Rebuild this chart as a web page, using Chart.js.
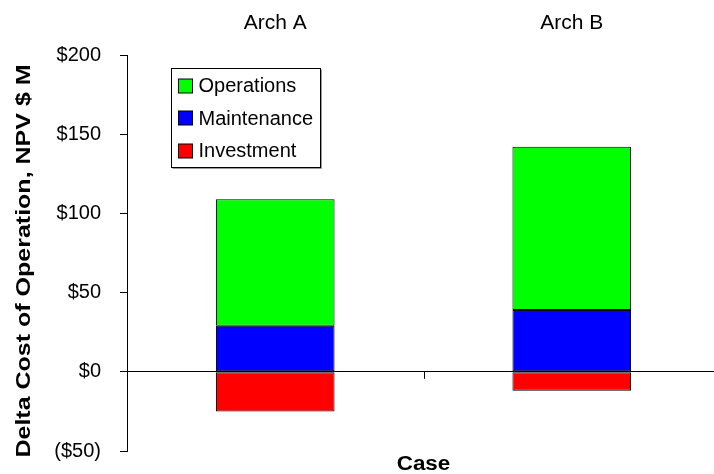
<!DOCTYPE html>
<html>
<head>
<meta charset="utf-8">
<script src="https://cdn.jsdelivr.net/npm/chart.js@4"></script>
<style>
  html, body { margin: 0; padding: 0; background: #fff; overflow: hidden; }
  #wrap { width: 720px; height: 474px; }
</style>
</head>
<body>
<div id="wrap"><canvas id="chart" width="720" height="474"></canvas></div>
<script>
// data
const cases = ["Arch A", "Arch B"];
const investment = [-25, -12];
const maintenance = [29, 39];
const operations = [80, 103];
const yTicks = [-50, 0, 50, 100, 150, 200];
const yTitle = "Delta Cost of Operation, NPV $ M";
const xTitle = "Case";

const FONT = "'Liberation Sans', Arial, sans-serif";

const fmtMoney = (v) => v < 0 ? "($" + (-v) + ")" : "$" + v;

// the excel text is a bit wider than arial, so titles get stretched a little
function wideText(ctx, text, x, y, sx, rot) {
  ctx.save();
  ctx.translate(x, y);
  if (rot) ctx.rotate(rot);
  ctx.scale(sx, 1);
  ctx.textAlign = "center";
  ctx.textBaseline = "middle";
  ctx.fillText(text, 0, 0);
  ctx.restore();
}

// zero line tick between the cases, axis titles, boxed legend
const extras = {
  id: "extras",
  afterDraw(chart) {
    const ctx = chart.ctx;
    const x = chart.scales.x;
    const y = chart.scales.y;
    const area = chart.chartArea;
    const y0 = y.getPixelForValue(0);

    ctx.save();
    ctx.strokeStyle = "#000";
    ctx.lineWidth = 1;
    for (let i = 0; i < cases.length - 1; i++) {
      const px = Math.round(x.getPixelForValue(i + 0.5)) + 0.5;
      ctx.beginPath();
      ctx.moveTo(px, y0);
      ctx.lineTo(px, y0 + 7);
      ctx.stroke();
    }

    // titles
    ctx.fillStyle = "#000";
    ctx.font = "bold 20px " + FONT;
    wideText(ctx, yTitle, 24, (area.top + area.bottom) / 2 + 8, 1.25, -Math.PI / 2);
    wideText(ctx, xTitle, x.getPixelForValue(0.5), 464, 1.12, 0);

    // legend
    const bx = area.left + 44.5, by = area.top + 13.5, bw = 149, bh = 99;
    ctx.fillStyle = "#fff";
    ctx.fillRect(bx, by, bw, bh);
    ctx.strokeStyle = "#000";
    ctx.strokeRect(bx, by, bw, bh);
    ctx.strokeStyle = "#999";
    ctx.beginPath();
    ctx.moveTo(bx + bw + 1, by + 1);
    ctx.lineTo(bx + bw + 1, by + bh + 1);
    ctx.lineTo(bx + 1, by + bh + 1);
    ctx.stroke();

    const items = chart.data.datasets.slice().reverse();
    ctx.font = "20px " + FONT;
    ctx.textBaseline = "middle";
    items.forEach((ds, i) => {
      const cy = by + 17 + i * 32.5;
      ctx.fillStyle = ds.backgroundColor;
      ctx.fillRect(bx + 7, Math.round(cy - 7), 14, 14);
      ctx.strokeStyle = "#000";
      ctx.strokeRect(bx + 7, Math.round(cy - 7), 14, 14);
      ctx.fillStyle = "#000";
      ctx.fillText(ds.label, bx + 27, cy + 1);
    });
    ctx.restore();
  }
};

const barStyle = {
  borderColor: "#000",
  borderWidth: 1,
  borderSkipped: false,
  barPercentage: 0.4,
  categoryPercentage: 1
};

new Chart(document.getElementById("chart"), {
  type: "bar",
  data: {
    labels: cases,
    datasets: [
      { label: "Investment", data: investment, backgroundColor: "#ff0000", ...barStyle },
      { label: "Maintenance", data: maintenance, backgroundColor: "#0000ff", ...barStyle },
      { label: "Operations", data: operations, backgroundColor: "#00ff00", ...barStyle }
    ]
  },
  options: {
    responsive: false,
    animation: false,
    layout: { padding: 0 },
    plugins: {
      legend: { display: false },
      tooltip: { enabled: false }
    },
    scales: {
      x: {
        type: "category",
        position: "top",
        stacked: true,
        grid: { display: false, drawTicks: false },
        border: { display: false },
        ticks: { color: "#000", font: { family: FONT, size: 21 }, padding: 19 },
        afterFit: (s) => { s.height = 55; }
      },
      xb: {
        type: "category",
        position: "bottom",
        labels: cases,
        grid: { display: false, drawTicks: false },
        border: { display: false },
        ticks: { display: false },
        afterFit: (s) => { s.height = 23; }
      },
      y: {
        stacked: true,
        min: -50,
        max: 200,
        afterBuildTicks: (s) => { s.ticks = yTicks.map((v) => ({ value: v })); },
        grid: {
          color: (c) => (c.tick && c.tick.value === 0 ? "#000" : "rgba(0,0,0,0)"),
          tickColor: "#000",
          tickLength: 7,
          lineWidth: 1
        },
        border: { display: true, color: "#000", width: 1 },
        ticks: {
          color: "#000",
          font: { family: FONT, size: 20 },
          padding: 19,
          callback: (v) => fmtMoney(v)
        },
        afterFit: (s) => {
          s.width = 127;
          // label padding would otherwise push the plot bottom up
          s.paddingTop = 0;
          s.paddingBottom = 0;
        }
      }
    }
  },
  plugins: [extras]
});
</script>
</body>
</html>
